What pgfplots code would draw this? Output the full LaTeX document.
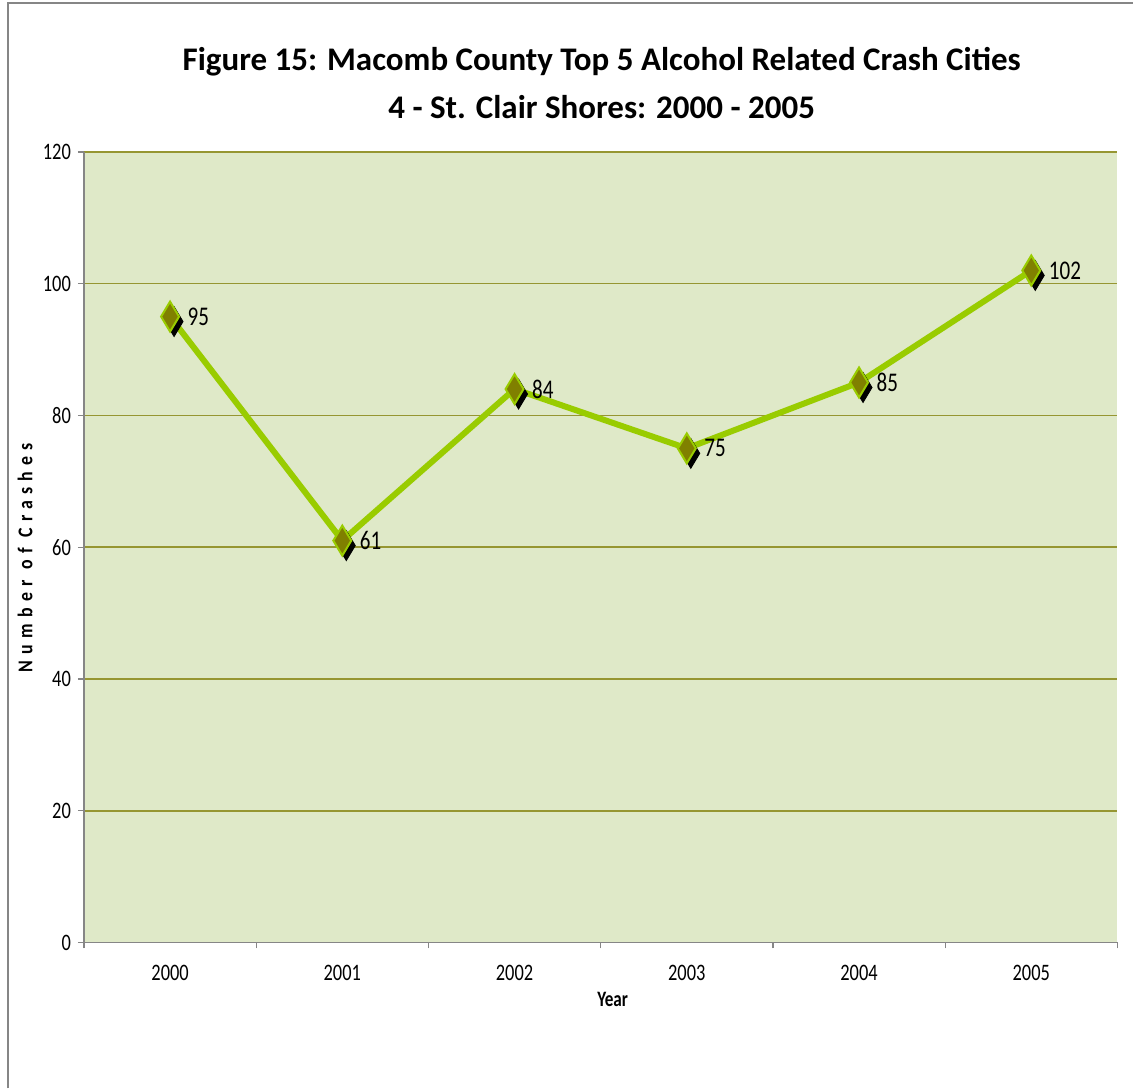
\documentclass[border=0pt]{standalone}
\usepackage{fontspec}
\setmainfont{Carlito}[FakeStretch=0.78]
\newfontfamily\titlefont{Carlito}
\newfontfamily\ylabfont{Carlito}[FakeStretch=0.85,LetterSpace=30]
\usepackage{pgfplots}
\pgfplotsset{compat=1.18}
\definecolor{plotbg}{RGB}{223,233,200}
\definecolor{gridol}{RGB}{150,150,50}
\definecolor{linegr}{RGB}{153,204,0}
\definecolor{markol}{RGB}{128,128,0}
\definecolor{axgray}{RGB}{134,134,134}
\pgfplotstableread{
x y
0 95
1 61
2 84
3 75
4 85
5 102
}\crashdata
\begin{document}
\begin{tikzpicture}
\path (0pt,0pt) rectangle (567pt,544.5pt);
\draw[axgray, line width=0.6pt] (4pt,0pt) -- (4pt,543pt) -- (567pt,543pt);
\node[font=\titlefont\bfseries\fontsize{16.5}{19}\selectfont] at (301pt,513.5pt) {Figure 15:  Macomb County Top 5 Alcohol Related Crash Cities};
\node[font=\titlefont\bfseries\fontsize{16.5}{19}\selectfont] at (301pt,491pt) {4 - St. Clair Shores:  2000 - 2005};
\begin{axis}[
  at={(42pt,73pt)}, anchor=south west,
  scale only axis, width=517pt, height=395.5pt,
  xmin=-0.5, xmax=5.5, ymin=0, ymax=120,
  xtick={-0.5,0.5,...,5.5}, xticklabels={},
  extra x ticks={0,1,2,3,4,5},
  extra x tick labels={2000,2001,2002,2003,2004,2005},
  extra x tick style={major tick length=0pt, grid=none, xticklabel style={yshift=-8pt}},
  ytick={0,20,...,120},
  tick align=outside,
  major tick length=3pt,
  tick style={axgray, line width=0.6pt},
  ymajorgrids, xmajorgrids=false,
  grid style={gridol, line width=0.8pt},
  axis x line*=bottom, axis y line*=left,
  axis line style={axgray, line width=0.8pt},
  axis background/.style={fill=plotbg},
  /pgf/number format/assume math mode=true,
  tick label style={font=\fontsize{11.8}{13}\selectfont},
  xlabel={Year},
  x label style={at={(axis description cs:0.5116,-0.072)}, anchor=center, font=\bfseries\fontsize{11}{13}\selectfont},
  ylabel={\ylabfont Number of Crashes},
  y label style={at={(axis description cs:-0.057,0.487)}, anchor=center, font=\bfseries\fontsize{10.5}{12}\selectfont},
  clip=false,
]
\addplot[linegr, line width=3pt, no marks] table[x=x,y=y] {\crashdata};
\addplot[draw=none, mark=diamond*, mark size=6pt,
  mark options={fill=black, draw=black, xshift=2pt, yshift=-2.5pt, yscale=1.25}] table[x=x,y=y] {\crashdata};
\addplot[draw=none, mark=diamond*, mark size=6pt,
  mark options={fill=markol, draw=linegr, line width=1pt, yscale=1.25},
  nodes near coords,
  every node near coord/.append style={anchor=west, xshift=5pt, yshift=0pt, font=\fontsize{13.5}{15}\selectfont, text=black}] table[x=x,y=y] {\crashdata};
\end{axis}
\end{tikzpicture}
\end{document}
